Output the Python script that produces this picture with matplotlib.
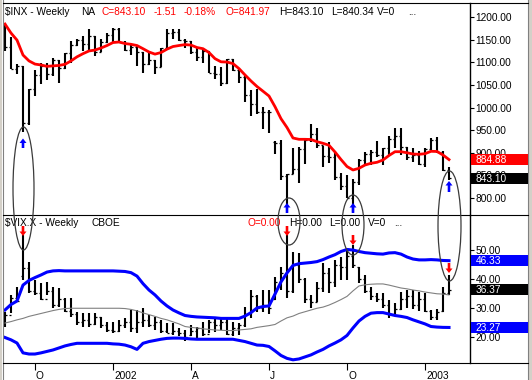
import matplotlib
matplotlib.use('Agg')
import matplotlib.pyplot as plt
from matplotlib.patches import Ellipse, Rectangle, FancyArrow
from matplotlib.transforms import ScaledTranslation
import numpy as np

plt.rcParams['font.family'] = ['Liberation Sans', 'DejaVu Sans']

# ---------------- data ----------------
tick_pos = [5, 18, 31, 44, 57, 70]
tick_lab = ['O', '2002', 'A', 'J', 'O', '2003']

inx_open = [1179, 1133.6, 1085.8, 1092.5, 965.8, 1040.9, 1071.4, 1091.7, 1073.5, 1104.6,
            1087.2, 1120.3, 1138.7, 1150.3, 1139.5, 1158.3, 1123.1, 1144.9, 1161.0, 1172.5,
            1145.6, 1127.6, 1133.3, 1122.2, 1096.2, 1104.2, 1089.8, 1131.8, 1164.3, 1166.2,
            1148.7, 1147.4, 1122.7, 1111.0, 1125.2, 1076.3, 1073.4, 1055.0, 1106.6, 1083.8,
            1067.1, 1027.5, 1007.3, 989.1, 989.8, 924.0, 921.4, 847.8, 852.8, 864.2,
            908.6, 928.8, 940.9, 916.1, 893.9, 889.8, 845.4, 827.4, 800.6, 835.3,
            884.4, 897.7, 901.0, 894.7, 909.8, 930.6, 936.3, 912.2, 889.5, 895.8,
            875.4, 908.6, 927.6, 901.8, 861.4]
inx_high = [1186, 1155, 1096.9, 1092.5, 1040.9, 1084, 1099.2, 1099, 1110, 1104.6,
            1121, 1148, 1152, 1157.9, 1173, 1159, 1152, 1164.6, 1176.6, 1176.6,
            1148, 1139, 1138, 1122, 1124, 1104, 1132, 1172.8, 1173, 1174,
            1151, 1148, 1131, 1130, 1125, 1091, 1089, 1107, 1106.6, 1085,
            1070, 1039, 1040.8, 1001.8, 994.5, 926.0, 928.0, 852.8, 911.6, 913,
            933, 962.7, 955, 916, 924, 902, 856, 851, 843, 886,
            902, 907, 925.7, 910, 937, 954.3, 954, 913, 911, 903,
            911, 932, 935, 904, 868]
inx_low = [1124, 1085, 1073.2, 944.8, 962, 1026, 1052, 1061, 1070, 1054.3,
           1085, 1098, 1135, 1125, 1125, 1114, 1122, 1142, 1145, 1145,
           1124, 1117, 1091, 1077, 1094, 1074, 1089, 1130, 1151, 1146,
           1131, 1119, 1102, 1099, 1076, 1063, 1048, 1053, 1081, 1054,
           1012, 981.6, 985, 952.9, 944, 897.0, 840, 775.7, 852.8, 833.4,
           876, 924, 910, 869, 877, 840, 817, 800, 768.6, 828,
           873, 873, 891, 872, 893, 910, 896, 884, 880, 873,
           869, 905, 900, 860, 840]
inx_close = [1133.6, 1085.8, 1092.5, 965.8, 1040.9, 1071.4, 1091.7, 1073.5, 1104.6, 1087.2,
             1120.3, 1138.7, 1150.3, 1139.5, 1158.3, 1123.1, 1144.9, 1161.0, 1172.5, 1145.6,
             1127.6, 1133.3, 1122.2, 1096.2, 1104.2, 1089.8, 1131.8, 1164.3, 1166.2, 1148.7,
             1147.4, 1122.7, 1111.0, 1125.2, 1076.3, 1073.4, 1055.0, 1106.6, 1083.8, 1067.1,
             1027.5, 1007.3, 989.1, 989.8, 989.0, 921.4, 847.8, 852.8, 864.2, 908.6,
             928.8, 940.9, 916.1, 893.9, 889.8, 845.4, 827.4, 800.6, 835.3, 884.4,
             897.7, 901.0, 894.7, 909.8, 930.6, 936.3, 912.2, 889.5, 895.8, 875.4,
             908.6, 927.6, 901.8, 861.4, 843.1]
inx_ma = [1184.5, 1164.6, 1149, 1116, 1103, 1096, 1094, 1091, 1092, 1093,
          1095.5, 1103, 1112, 1119, 1125, 1127, 1131.5, 1137, 1143.6, 1144.8,
          1141.4, 1139.7, 1137, 1130, 1122.7, 1118, 1121.5, 1129, 1134.8, 1137,
          1139, 1138, 1132.6, 1130, 1121.5, 1108, 1101, 1100.5, 1097, 1086,
          1072, 1058.6, 1046.4, 1036, 1025.4, 1001.8, 975.3, 955.8, 932.6, 929.7,
          929.7, 929.3, 924.4, 920.9, 916.5, 901.7, 885, 869.6, 861.9, 865.6,
          872.9, 876.7, 878.9, 884, 893.9, 902.3, 902.3, 900, 897.2, 896.6,
          897.9, 903.2, 902.8, 895, 884.88]

vix_open = [24.5, 27.5, 33.5, 41.0, 43.8, 36.0, 35.0, 33.0, 36.0, 31.0,
            33.0, 29.0, 28.0, 25.0, 26.0, 24.5, 27.0, 24.0, 22.5, 22.0,
            24.0, 25.0, 23.0, 25.0, 26.0, 24.0, 25.0, 22.0, 21.5, 22.0,
            21.5, 20.5, 22.0, 23.0, 21.0, 25.0, 24.0, 25.0, 21.0, 23.0,
            24.0, 28.0, 34.0, 30.0, 31.0, 33.0, 39.0, 42.0, 36.0, 45.0,
            40.0, 33.0, 32.0, 37.0, 42.0, 39.0, 45.0, 44.0, 48.0, 44.0,
            40.0, 36.0, 34.0, 33.0, 31.0, 28.0, 29.5, 33.0, 34.0, 31.0,
            33.0, 29.0, 27.0, 29.0, 35.0]
vix_high = [28.7, 34.5, 37.3, 55.2, 46.0, 39.7, 38.5, 39.1, 37.4, 36.8,
            33.3, 33.3, 28.7, 28.2, 28.2, 28.2, 27.0, 25.3, 25.3, 25.9,
            26.5, 29.3, 29.3, 29.9, 27.6, 27.0, 25.9, 24.7, 24.7, 23.0,
            22.4, 24.1, 23.6, 25.3, 25.9, 27.0, 27.0, 26.5, 25.3, 24.7,
            30.4, 36.2, 34.5, 36.2, 36.2, 40.7, 44.1, 55.2, 49.3, 49.0,
            40.3, 34.5, 39.0, 45.5, 43.8, 46.6, 47.6, 50.0, 51.7, 44.1,
            41.4, 37.2, 35.2, 35.2, 32.8, 31.7, 35.5, 36.2, 36.2, 35.5,
            35.0, 29.3, 29.5, 37.2, 41.4]
vix_low = [23.6, 28.2, 32.2, 39.7, 35.1, 34.5, 32.8, 34.5, 29.9, 30.4,
           28.7, 27.0, 24.1, 23.6, 23.6, 24.1, 23.0, 21.8, 21.3, 21.8,
           23.0, 21.8, 21.3, 23.6, 23.6, 22.5, 21.3, 21.3, 20.8, 20.2,
           18.6, 20.2, 19.6, 20.2, 21.3, 21.8, 22.5, 20.8, 20.2, 20.8,
           23.6, 26.4, 28.7, 28.6, 27.9, 32.8, 36.2, 33.4, 35.2, 38.6,
           31.7, 30.0, 32.0, 35.5, 35.2, 37.2, 39.7, 39.7, 43.8, 38.6,
           35.2, 32.8, 32.0, 30.0, 26.6, 27.6, 29.3, 30.0, 29.5, 29.0,
           28.5, 25.9, 25.9, 28.6, 34.5]
vix_close = [27.5, 33.5, 32.5, 43.8, 36.0, 35.0, 33.0, 36.0, 31.0, 33.0,
             29.0, 28.0, 25.0, 26.0, 24.5, 27.0, 24.0, 22.5, 22.0, 24.0,
             25.0, 23.0, 25.0, 26.0, 24.0, 25.0, 22.0, 21.5, 22.0, 21.5,
             20.0, 22.0, 23.0, 21.0, 25.0, 24.0, 25.0, 21.0, 23.0, 24.0,
             28.0, 34.0, 30.0, 31.0, 30.0, 39.0, 42.0, 36.0, 45.0, 40.0,
             33.0, 32.0, 37.0, 42.0, 39.0, 45.0, 44.0, 48.0, 45.0, 40.0,
             36.0, 34.0, 33.0, 31.0, 28.0, 29.5, 33.0, 34.0, 31.0, 33.0,
             29.0, 27.0, 28.5, 35.0, 36.37]
bb_upper = [29.3, 31.2, 32.4, 37.9, 39.5, 40.5, 41.4, 42.4, 42.8, 42.9,
            42.8, 42.8, 42.8, 42.8, 42.8, 42.8, 42.8, 42.8, 42.8, 42.7,
            42.6, 42.2, 41.0, 38.4, 36.2, 34.5, 32.4, 30.7, 29.3, 28.3,
            27.4, 27.1, 26.9, 26.8, 26.7, 26.6, 26.4, 26.4, 26.4, 26.4,
            27.2, 28.4, 30.0, 30.5, 30.7, 34.8, 39.0, 42.1, 44.7, 45.3,
            45.5, 45.7, 46.0, 46.7, 47.6, 48.4, 49.5, 50.2, 50.0, 49.5,
            49.1, 48.9, 48.7, 48.6, 49.0, 49.1, 48.6, 47.6, 46.9, 46.6,
            46.6, 46.7, 46.6, 46.4, 46.33]
bb_mid = [24.8, 25.3, 25.9, 26.4, 27.1, 27.6, 28.1, 28.6, 29.1, 29.5,
          29.8, 29.9, 29.9, 29.9, 29.9, 29.9, 29.9, 29.9, 29.9, 29.9,
          29.8, 29.5, 29.0, 28.3, 27.7, 27.1, 26.4, 25.9, 25.2, 24.5,
          23.6, 23.3, 23.1, 22.8, 22.6, 22.4, 22.3, 22.2, 22.2, 22.4,
          22.6, 22.8, 23.3, 23.6, 23.9, 24.3, 25.5, 26.6, 27.2, 28.1,
          28.7, 29.3, 29.9, 30.3, 31.0, 31.9, 32.9, 34.0, 35.9, 37.6,
          38.0, 38.2, 38.3, 38.3, 37.9, 37.4, 36.9, 36.6, 36.2, 35.9,
          35.5, 35.2, 34.9, 34.8, 34.5]
bb_lower = [19.8, 19.0, 17.9, 14.5, 14.1, 14.1, 14.5, 15.0, 15.5, 16.2,
            16.9, 17.4, 17.8, 17.8, 17.8, 17.8, 17.8, 17.8, 17.6, 17.5,
            17.2, 16.6, 15.7, 17.8, 18.4, 18.8, 19.2, 19.5, 19.6, 19.6,
            19.5, 19.3, 19.2, 19.2, 19.2, 19.2, 19.2, 19.2, 19.2, 18.8,
            18.4, 17.8, 17.2, 17.1, 16.7, 15.2, 13.6, 12.6, 12.1, 12.4,
            13.1, 13.8, 14.8, 15.7, 16.9, 17.9, 19.0, 20.5, 23.1, 25.5,
            27.1, 28.2, 28.4, 28.4, 27.9, 27.4, 27.1, 26.7, 25.9, 25.2,
            24.5, 23.6, 23.4, 23.3, 23.27]

inx_yticks = [800, 850, 900, 950, 1000, 1050, 1100, 1150, 1200]
vix_yticks = [20, 30, 40, 50]

# ---------------- figure ----------------
W, H = 532, 380
fig = plt.figure(figsize=(W / 100, H / 100), dpi=100)
fig.patch.set_facecolor('white')

PL, PR, T1, B1, B2 = 3, 470, 3, 215, 363


def rect(l, t, r, b):
    return [l / W, 1 - b / H, (r - l) / W, (b - t) / H]


ax1 = fig.add_axes(rect(PL, T1, PR, B1))
ax2 = fig.add_axes(rect(PL, B1, PR, B2))
x = np.arange(len(inx_close))
FS = 7.3

for ax in (ax1, ax2):
    ax.set_xlim(-1 / 3, 77.5)
    ax.set_facecolor('none')
    for s in ax.spines.values():
        s.set_visible(False)
    ax.spines['right'].set_visible(True)
    ax.spines['right'].set_linewidth(1.0)
    ax.yaxis.tick_right()
    ax.tick_params(axis='y', direction='out', length=3, width=0.8, pad=1,
                   labelsize=FS, colors='black')
    ax.tick_params(axis='x', bottom=False, labelbottom=False)

ax1.set_ylim(762.4, 1231)
ax2.set_ylim(11.0, 62.1)
ax1.set_yticks(inx_yticks)
ax1.set_yticklabels(['%.2f' % v for v in inx_yticks])
ax2.set_yticks(vix_yticks)
ax2.set_yticklabels(['%.2f' % v for v in vix_yticks])


def ohlc(ax, o, h, l, c):
    ax.vlines(x, l, h, color='black', lw=1.5, zorder=2)
    ax.hlines(o, x - 0.4, x, color='black', lw=0.9, zorder=2)
    ax.hlines(c, x, x + 0.4, color='black', lw=0.9, zorder=2)


ohlc(ax1, inx_open, inx_high, inx_low, inx_close)
ax1.plot(x, inx_ma, color='#ff0000', lw=2.0, zorder=3, solid_joinstyle='round')

ohlc(ax2, vix_open, vix_high, vix_low, vix_close)
ax2.plot(x, bb_mid, color='#808080', lw=0.8, zorder=3)
ax2.plot(x, bb_upper, color='#0000ff', lw=2.2, zorder=3, solid_joinstyle='round')
ax2.plot(x, bb_lower, color='#0000ff', lw=2.2, zorder=3, solid_joinstyle='round')

ax2.set_xticks(tick_pos)
ax2.set_xticklabels(tick_lab)
ax2.tick_params(axis='x', bottom=True, labelbottom=True, direction='out',
                length=5, width=0.8, pad=1, labelsize=FS)
for lbl in ax2.get_xticklabels():
    lbl.set_ha('left')
    lbl.set_transform(lbl.get_transform() + ScaledTranslation(1 / 100, 0, fig.dpi_scale_trans))

# ---------------- overlay (pixel coordinates) ----------------
ov = fig.add_axes([0, 0, 1, 1], zorder=10)
ov.set_xlim(0, W)
ov.set_ylim(H, 0)
ov.axis('off')
ov.patch.set_alpha(0)

# borders
ov.add_patch(Rectangle((0, 0), 2.2, H, color='#d4d0c8', lw=0))
ov.plot([2.6, 2.6], [0, H], color='#808080', lw=0.8)
ov.add_patch(Rectangle((528.5, 0), 4, H, color='#d4d0c8', lw=0))
ov.plot([528.3, 528.3], [0, H], color='#808080', lw=0.8)
for yy in (T1, B1, B2):
    ov.plot([PL, 528.3], [yy, yy], color='black', lw=0.8)


# headers
def t(xp, yp, s, c='black'):
    ov.text(xp, yp, s, color=c, fontsize=FS, ha='left', va='center')


t(5, 12, '$INX - Weekly')
t(81, 12, 'NA')
t(102, 12, 'C=843.10', '#ff0000')
t(154, 12, '-1.51', '#ff0000')
t(184, 12, '-0.18%', '#ff0000')
t(226, 12, 'O=841.97', '#ff0000')
t(279, 12, 'H=843.10')
t(331, 12, 'L=840.34')
t(377, 12, 'V=0')
t(408, 12, '...')

t(5, 223.5, '$VIX.X - Weekly')
t(92, 223.5, 'CBOE')
t(248, 223.5, 'O=0.00', '#ff0000')
t(289, 223.5, 'H=0.00')
t(329, 223.5, 'L=0.00')
t(368, 223.5, 'V=0')
t(394, 223.5, '...')

# value boxes on the right axis
fig.canvas.draw()


def ypix(ax, v):
    return H - ax.transData.transform((0, v))[1]


boxes = [(ax1, inx_ma[-1], '#ff0000'), (ax1, inx_close[-1], '#000000'),
         (ax2, bb_upper[-1], '#0000ff'), (ax2, vix_close[-1], '#000000'),
         (ax2, bb_lower[-1], '#0000ff')]
for ax, v, col in boxes:
    yp = ypix(ax, v)
    ov.add_patch(Rectangle((471, yp - 5.5), 57, 11, color=col, lw=0, zorder=5))
    ov.text(475.5, yp + 0.3, '%.2f' % v, color='white', fontsize=FS,
            ha='left', va='center', zorder=6)

# ellipses
for cx, cy, w, h in [(23.5, 188.5, 21, 123), (289, 221.5, 22, 47),
                     (353, 225, 22, 60), (449.5, 226, 23, 110)]:
    ov.add_patch(Ellipse((cx, cy), w, h, fill=False, edgecolor='#3a3a3a', lw=0.9, zorder=7))


def arrow(xp, ytail, yhead, col):
    ov.add_patch(FancyArrow(xp, ytail, 0, yhead - ytail, width=2.6, head_width=7,
                            head_length=4.5, length_includes_head=True,
                            color=col, lw=0, zorder=8))


for xp, y0, y1 in [(23, 148, 138.5), (287, 213, 203), (353, 213, 203), (449, 192, 181)]:
    arrow(xp, y0, y1, '#0000ff')
for xp, y0, y1 in [(23, 226, 236), (287, 226, 236), (353, 235, 245), (449, 263, 273)]:
    arrow(xp, y0, y1, '#ff0000')

fig.savefig('out.png', dpi=100)
